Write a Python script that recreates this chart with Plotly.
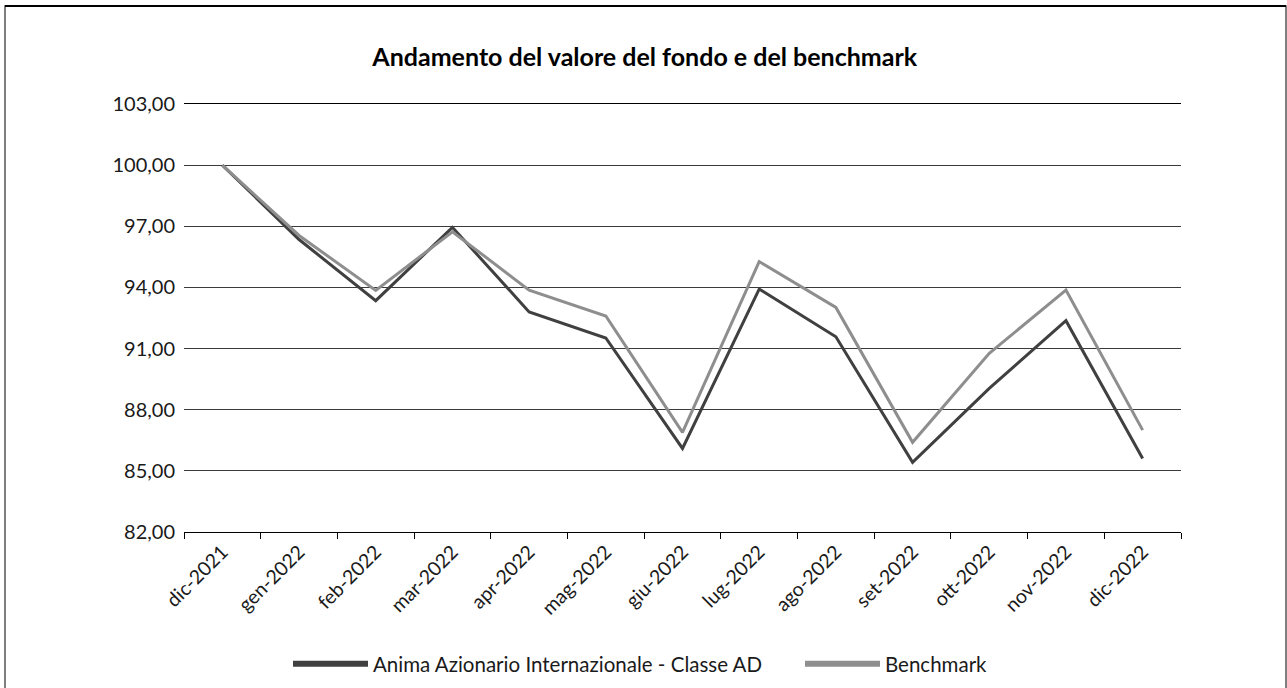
import plotly.graph_objects as go

categories = ["dic-2021", "gen-2022", "feb-2022", "mar-2022", "apr-2022", "mag-2022",
              "giu-2022", "lug-2022", "ago-2022", "set-2022", "ott-2022", "nov-2022", "dic-2022"]
fondo = [100.00, 96.35, 93.35, 96.95, 92.80, 91.52, 86.10, 93.92, 91.58, 85.42, 89.05, 92.37, 85.61]
benchmark = [100.00, 96.55, 93.85, 96.73, 93.87, 92.60, 86.89, 95.27, 93.02, 86.40, 90.77, 93.87, 87.00]
y_ticks = [82, 85, 88, 91, 94, 97, 100, 103]

name_fondo = "Anima Azionario Internazionale - Classe AD"
name_bench = "Benchmark"
c_fondo = "#404040"
c_bench = "#8e8e8e"

W, H = 1287, 688
L, R, T, B = 184, 106, 104, 156

fig = go.Figure()
fig.add_trace(go.Scatter(x=categories, y=fondo, mode="lines", name=name_fondo,
                         line=dict(color=c_fondo, width=3), showlegend=False))
fig.add_trace(go.Scatter(x=categories, y=benchmark, mode="lines", name=name_bench,
                         line=dict(color=c_bench, width=3), showlegend=False))
# legend entries with thicker swatches
fig.add_trace(go.Scatter(x=[None], y=[None], mode="lines", name=name_fondo,
                         line=dict(color=c_fondo, width=6), legend="legend"))
fig.add_trace(go.Scatter(x=[None], y=[None], mode="lines", name=name_bench,
                         line=dict(color=c_bench, width=6), legend="legend2"))

pw = W - L - R
ph = H - T - B
fig.add_shape(type="rect", xref="paper", yref="paper",
              x0=(5 - L) / pw, x1=(1286 - L) / pw,
              y0=(H - B - 700) / ph, y1=(H - B - 6) / ph,
              line=dict(color="#555555", width=1.5), layer="below")
fig.add_shape(type="line", xref="paper", yref="paper",
              x0=(5 - L) / pw, x1=(1286 - L) / pw,
              y0=(H - B - 6) / ph, y1=(H - B - 6) / ph,
              line=dict(color="#000000", width=2), layer="below")

legend_common = dict(orientation="h", xref="container", xanchor="left",
                     y=1 - 664 / H, yref="container", yanchor="middle",
                     itemwidth=75, font=dict(family="Lato", size=20.5, color="#1a1a1a"),
                     tracegroupgap=0, itemsizing="trace", bgcolor="rgba(0,0,0,0)")

fig.update_layout(
    width=W, height=H,
    margin=dict(l=L, r=R, t=T, b=B, autoexpand=False),
    paper_bgcolor="white", plot_bgcolor="white",
    font=dict(family="Lato", size=20, color="#1a1a1a"),
    separators=",.",
    title=dict(text="<b>Andamento del valore del fondo e del benchmark</b>",
               x=0.501, xref="container", xanchor="center",
               y=1 - 57 / H, yref="container", yanchor="middle",
               font=dict(family="Lato", size=25, color="#000000")),
    xaxis=dict(type="category", tickson="boundaries", ticks="outside", ticklen=6,
               tickcolor="#000000", tickwidth=1, showline=True, linecolor="#000000",
               linewidth=1, mirror=True, showgrid=False, tickangle=-45,
               tickfont=dict(family="Lato", size=19.5, color="#1a1a1a"),
               range=[-0.5, len(categories) - 0.5]),
    yaxis=dict(range=[82, 103], tickvals=y_ticks, tickformat=".2f",
               showgrid=True, gridcolor="#3a3a3a", gridwidth=1, zeroline=False,
               showline=False, ticks="", ticklabelstandoff=8,
               tickfont=dict(family="Lato", size=20, color="#1a1a1a")),
    legend=dict(x=(296 - 8) / W, **legend_common),
    legend2=dict(x=(808 - 8) / W, **legend_common),
)

fig.write_html("out.html", config={"displayModeBar": False},
               post_script="document.body.style.margin='0';document.body.style.overflow='hidden';")
